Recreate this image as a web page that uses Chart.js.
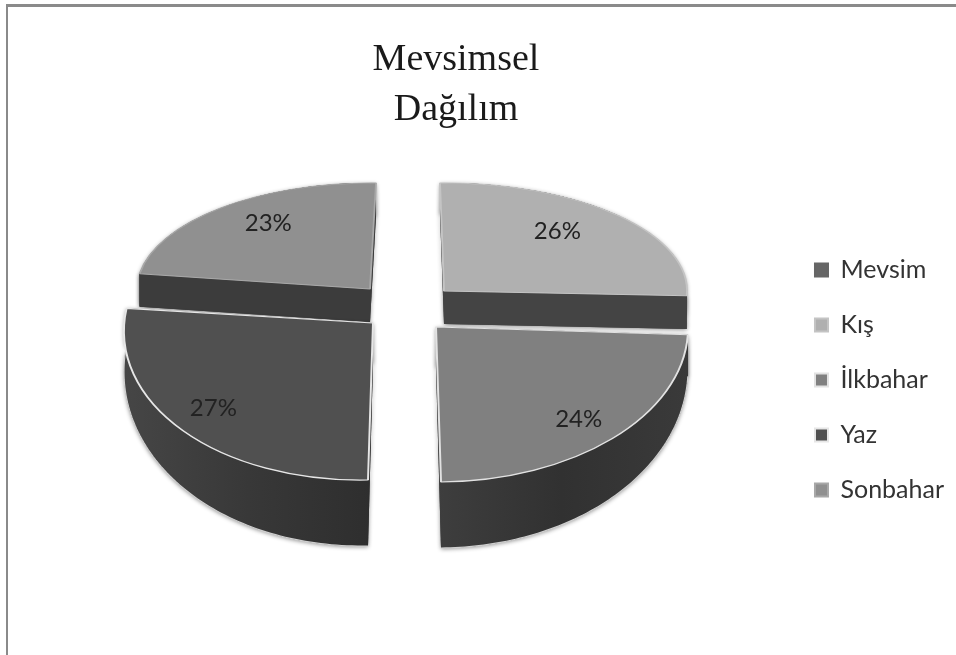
<!DOCTYPE html>
<html>
<head>
<meta charset="utf-8">
<title>Mevsimsel Dağılım</title>
<script src="https://cdn.jsdelivr.net/npm/chart.js@4"></script>
<style>
    html, body { margin: 0; padding: 0; background: #fff; overflow: hidden; }
    #frame { position: absolute; left: 6px; top: 4px; width: 960px; height: 660px; border-top: 3px solid #8a8a8a; border-left: 2px solid #8a8a8a; }
    #seasonChart { position: absolute; left: 0; top: 0; }
</style>
</head>
<body>
<canvas id="seasonChart" width="956" height="655"></canvas>
<div id="frame"></div>
<script>
var seasons = ["Mevsim", "Kış", "İlkbahar", "Yaz", "Sonbahar"];
var shares = [0, 26, 24, 27, 23];
var topColors = ["#666666", "#b0b0b0", "#808080", "#505050", "#909090"];
var rimColors = ["#666666", "#c4c4c4", "#e2e2e2", "#e6e6e6", "#a8a8a8"];

// where each exploded slice sits: apex, right and down axes of its tilted ellipse,
// wall depth at the apex and extra depth towards the viewer
var sliceFrames = [
    null,
    { apex: [444, 291], right: [243, -2], down: [4, 108], depth: 33, extra: 2, labelAt: [0.65, 0.79], wall: ["#444444", "#444444"] },
    { apex: [436, 327], right: [252, -2], down: [5, 155], depth: 40, extra: 26, labelAt: [0.81, 0.83], wall: ["#3e3e3e", "#313131", "#3a3a3a"], rim: true },
    { apex: [373, 323], right: [249, -5], down: [-5, 157], depth: 40, extra: 26, labelAt: [0.84, 0.79], wall: ["#464646", "#383838", "#2e2e2e"], rim: true },
    { apex: [370, 289], right: [233, 2], down: [-6, 106], depth: 33, extra: 0, labelAt: [0.68, 0.81], wall: ["#3c3c3c", "#3c3c3c"] }
];

function pointOn(f, angle, lower) {
    var c = Math.cos(angle), s = Math.sin(angle);
    var dy = lower ? f.depth + f.extra * s : 0;
    return [f.apex[0] + f.right[0] * c + f.down[0] * s, f.apex[1] + f.right[1] * c + f.down[1] * s + dy];
}

function outerWall(ctx, f, arc) {
    var steps = 80, i, a, p;
    ctx.beginPath();
    for (i = 0; i <= steps; i++) {
        a = arc.startAngle + (arc.endAngle - arc.startAngle) * i / steps;
        p = pointOn(f, a, false);
        if (i == 0) ctx.moveTo(p[0], p[1]); else ctx.lineTo(p[0], p[1]);
    }
    for (i = steps; i >= 0; i--) {
        a = arc.startAngle + (arc.endAngle - arc.startAngle) * i / steps;
        p = pointOn(f, a, true);
        ctx.lineTo(p[0], p[1]);
    }
    ctx.closePath();
}

function radialWall(ctx, f, angle) {
    var tip = pointOn(f, angle, false);
    var low = pointOn(f, angle, true);
    ctx.beginPath();
    ctx.moveTo(f.apex[0], f.apex[1]);
    ctx.lineTo(tip[0], tip[1]);
    ctx.lineTo(low[0], low[1]);
    ctx.lineTo(f.apex[0], f.apex[1] + f.depth);
    ctx.closePath();
}

function lowerEdge(ctx, f, arc) {
    var steps = 80, i, a, p;
    ctx.beginPath();
    for (i = 0; i <= steps; i++) {
        a = arc.startAngle + (arc.endAngle - arc.startAngle) * i / steps;
        p = pointOn(f, a, true);
        if (i == 0) ctx.moveTo(p[0], p[1]); else ctx.lineTo(p[0], p[1]);
    }
}

function fillWalls(ctx, f, arc) {
    radialWall(ctx, f, arc.startAngle);
    ctx.fill();
    radialWall(ctx, f, arc.endAngle);
    ctx.fill();
    outerWall(ctx, f, arc);
    ctx.fill();
}

// draws the pie as four lifted wedges, walls first and then the library's own arcs on top
var tiltedPie = {
    id: "tiltedPie",
    afterLayout: function (chart) {
        // legend sits lower and further right than the box layout puts it
        var legend = chart.legend;
        legend.left += 42;
        legend.right += 42;
        legend.top += 40;
        legend.bottom += 40;
    },
    beforeDatasetsDraw: function (chart) {
        var ctx = chart.ctx;
        var arcs = chart.getDatasetMeta(0).data;
        var order = [4, 1, 3, 2];

        order.forEach(function (i) {
            var f = sliceFrames[i], arc = arcs[i];
            var goesLeft = Math.cos((arc.startAngle + arc.endAngle) / 2) < 0;
            var x0 = goesLeft ? f.apex[0] - f.right[0] : f.apex[0];
            var wall = ctx.createLinearGradient(x0, 0, x0 + f.right[0], 0);
            f.wall.forEach(function (color, n) {
                wall.addColorStop(n / (f.wall.length - 1), color);
            });

            ctx.save();
            ctx.fillStyle = wall;
            // first pass leaves the soft shadow, second covers it where walls overlap
            ctx.shadowColor = "rgba(0,0,0,0.45)";
            ctx.shadowBlur = 4;
            ctx.shadowOffsetY = 1;
            fillWalls(ctx, f, arc);
            ctx.shadowColor = "transparent";
            fillWalls(ctx, f, arc);
            if (f.rim) {
                lowerEdge(ctx, f, arc);
                ctx.strokeStyle = "#cfcfcf";
                ctx.lineWidth = 1.2;
                ctx.stroke();
            }
            ctx.restore();

            // top face
            var r = arc.outerRadius;
            ctx.save();
            ctx.transform(f.right[0] / r, f.right[1] / r, f.down[0] / r, f.down[1] / r,
                f.apex[0] - (f.right[0] * arc.x + f.down[0] * arc.y) / r,
                f.apex[1] - (f.right[1] * arc.x + f.down[1] * arc.y) / r);
            arc.draw(ctx);
            ctx.restore();
        });

        // percentage labels
        ctx.save();
        ctx.font = "24px Lato";
        ctx.fillStyle = "#222222";
        ctx.textAlign = "center";
        ctx.textBaseline = "middle";
        order.forEach(function (i) {
            var f = sliceFrames[i], arc = arcs[i];
            var mid = (arc.startAngle + arc.endAngle) / 2;
            var p = pointOn(f, mid, false);
            var x = f.apex[0] + (p[0] - f.apex[0]) * f.labelAt[0];
            var y = f.apex[1] + (p[1] - f.apex[1]) * f.labelAt[1];
            ctx.fillText(shares[i] + "%", x, y);
        });
        ctx.restore();
        return false;
    }
};

var chart = new Chart("seasonChart", {
    type: "pie",
    data: {
        labels: seasons,
        datasets: [{
            data: shares,
            backgroundColor: topColors,
            borderColor: rimColors,
            borderWidth: 2
        }]
    },
    options: {
        responsive: false,
        animation: false,
        layout: { padding: { top: 25, right: 44, bottom: 0, left: 0 } },
        plugins: {
            tooltip: { enabled: false },
            title: {
                display: true,
                text: ["Mevsimsel", "Dağılım"],
                color: "#1a1a1a",
                font: { family: "Liberation Serif", size: 38, weight: "normal", lineHeight: 1.32 },
                padding: { top: 10, bottom: 10 }
            },
            legend: {
                position: "right",
                labels: {
                    boxWidth: 13,
                    boxHeight: 13,
                    padding: 30,
                    color: "#333333",
                    font: { family: "Lato", size: 25 }
                }
            }
        }
    },
    plugins: [tiltedPie]
});
</script>
</body>
</html>
